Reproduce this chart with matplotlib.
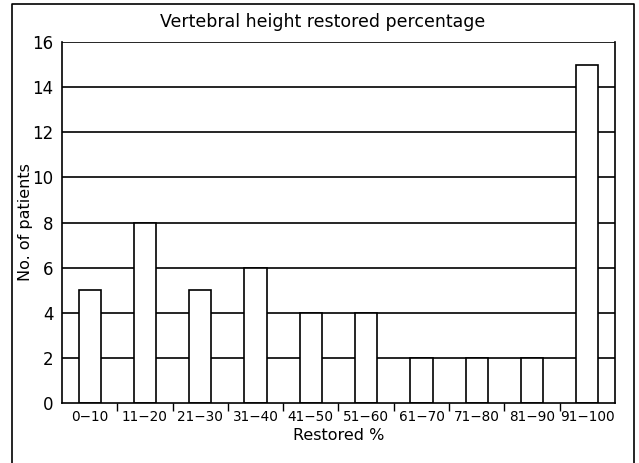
import matplotlib
matplotlib.use("Agg")
import matplotlib.pyplot as plt
import numpy as np
from matplotlib.lines import Line2D

categories = ["0\u221210", "11\u221220", "21\u221230", "31\u221240", "41\u221250",
              "51\u221260", "61\u221270", "71\u221280", "81\u221290", "91\u2212100"]
patients = [5, 8, 5, 6, 4, 4, 2, 2, 2, 15]
yticks = [0, 2, 4, 6, 8, 10, 12, 14, 16]

W, H = 639, 463
fig = plt.figure(figsize=(W / 100, H / 100), dpi=100)
plt.rcParams['font.family'] = ['DejaVu Sans']

ax = fig.add_axes([62 / W, 1 - 403 / H, (615 - 62) / W, (403 - 42) / H])
x = np.arange(len(categories))
for y in yticks[1:]:
    ax.axhline(y, color='black', lw=1.2, zorder=1)
ax.bar(x, patients, width=0.4, color='white', edgecolor='black', linewidth=1.2, zorder=2)
ax.set_xlim(-0.5, len(categories) - 0.5)
ax.set_ylim(0, 16)
ax.set_yticks(yticks)
ax.tick_params(axis='y', length=0, labelsize=12, pad=6)
ax.set_xticks(x)
ax.set_xticklabels(categories, fontsize=9.8)
ax.tick_params(axis='x', which='major', length=0, pad=5)
ax.set_xticks(np.arange(0.5, len(categories) - 1, 1), minor=True)
ax.tick_params(axis='x', which='minor', length=6, width=1, direction='out')
for s in ax.spines.values():
    s.set_linewidth(1.2)
ax.spines['top'].set_visible(False)
ax.set_ylabel("No. of patients", fontsize=11.5, labelpad=0)
ax.yaxis.set_label_coords(-0.052, 0.5)
ax.set_xlabel("Restored %", fontsize=11.5, labelpad=3)
fig.text(0.505, 1 - 22 / H, "Vertebral height restored percentage", ha='center', va='center', fontsize=12.5)

# outer frame
l, r, t, b = 12 / W, 634 / W, 1 - 4 / H, -0.02
fig.add_artist(Line2D([l, l, r, r], [b, t, t, b], transform=fig.transFigure, color='black', lw=1.2))

fig.savefig("out.png", dpi=100)
